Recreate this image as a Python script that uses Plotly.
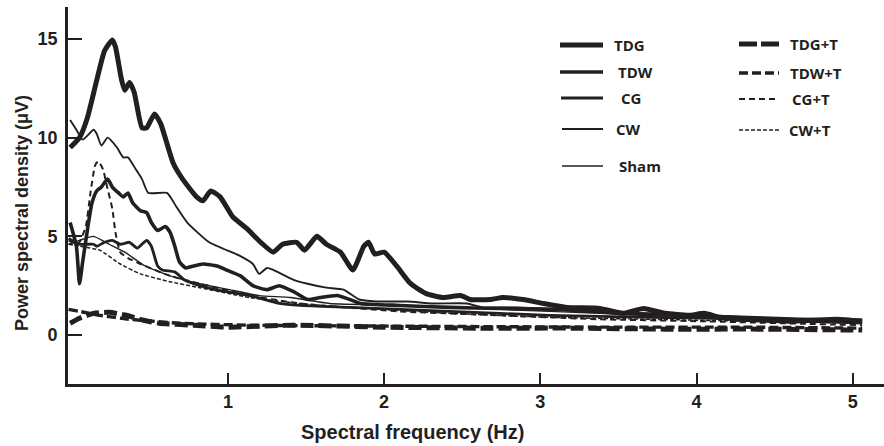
import plotly.graph_objects as go

# ---------------- data (Hz, µV) ----------------
tdg_x = [-0.01,0.05,0.10,0.16,0.21,0.26,0.28,0.32,0.34,0.37,0.40,0.45,0.48,0.53,0.57,0.65,0.71,0.80,0.84,0.89,
         0.95,1.03,1.12,1.21,1.29,1.35,1.44,1.49,1.57,1.63,1.72,1.80,1.87,1.90,1.94,2.00,2.08,2.17,2.27,2.38,
         2.49,2.55,2.68,2.76,2.89,3.02,3.17,3.38,3.53,3.66,3.80,3.95,4.05,4.15,4.30,4.45,4.60,4.75,4.90,5.06]
tdg_y = [9.5,10.0,11.0,12.9,14.4,14.95,14.6,12.9,12.4,12.8,12.3,10.5,10.5,11.2,10.7,8.7,7.9,7.0,6.8,7.3,
         7.0,6.0,5.4,4.7,4.2,4.6,4.7,4.3,5.0,4.6,4.2,3.3,4.5,4.7,4.1,4.2,3.5,2.6,2.1,1.9,
         2.0,1.8,1.8,1.9,1.8,1.6,1.4,1.35,1.1,1.35,1.1,1.0,1.1,0.9,0.8,0.75,0.7,0.75,0.8,0.7]

tdw_x = [-0.01,0.03,0.05,0.07,0.10,0.13,0.16,0.19,0.23,0.26,0.30,0.33,0.36,0.39,0.44,0.48,0.51,0.55,0.60,0.63,
         0.66,0.69,0.73,0.78,0.84,0.93,0.99,1.08,1.16,1.25,1.33,1.42,1.51,1.59,1.70,1.78,1.85,2.10,2.42,2.74,
         3.12,3.51,3.89,4.28,4.66,5.06]
tdw_y = [5.7,4.5,2.6,3.7,5.3,6.7,7.3,7.5,7.9,7.5,7.2,7.0,7.2,6.7,6.3,6.2,5.7,5.3,5.5,5.2,
         4.5,3.7,3.4,3.5,3.6,3.5,3.3,3.0,2.5,2.3,2.5,2.2,1.8,1.9,2.0,1.8,1.6,1.5,1.4,1.35,
         1.3,1.1,1.0,0.9,0.8,0.75]

cg_x = [-0.02,0.05,0.14,0.16,0.21,0.26,0.31,0.37,0.42,0.48,0.51,0.55,0.58,0.66,0.72,0.82,0.92,1.14,1.33,1.46,
        1.78,2.42,3.06,3.70,4.34,5.06]
cg_y = [4.9,4.6,4.6,4.5,4.7,4.8,4.6,4.7,4.4,4.8,4.5,3.5,3.3,3.2,2.8,2.5,2.3,2.0,1.6,1.5,
        1.4,1.2,1.0,0.9,0.8,0.6]

cw_x = [-0.01,0.03,0.07,0.14,0.16,0.19,0.23,0.29,0.33,0.36,0.41,0.45,0.49,0.61,0.67,0.74,0.88,1.08,1.16,1.20,
        1.25,1.29,1.42,1.51,1.63,1.74,1.84,1.95,2.15,2.31,2.53,2.63,2.85,3.38,4.02,4.66,5.06]
cw_y = [10.9,10.4,9.9,10.4,10.2,9.6,10.0,9.5,9.0,9.0,8.4,7.9,7.2,7.2,6.5,5.7,4.7,4.0,3.6,3.1,
        3.4,3.3,2.8,2.6,2.4,2.3,1.8,1.7,1.7,1.6,1.6,1.4,1.4,1.2,1.0,0.8,0.7]

sham_x = [-0.02,0.05,0.14,0.24,0.34,0.47,0.63,0.82,1.01,1.20,1.40,1.65,2.10,2.74,3.38,4.02,4.66,5.06]
sham_y = [4.6,4.8,5.0,4.6,4.2,3.5,3.0,2.6,2.3,2.0,1.9,1.6,1.5,1.3,1.1,0.9,0.8,0.6]

tdgt_x = [-0.01,0.05,0.14,0.24,0.35,0.46,0.56,0.78,0.99,1.41,2.00,2.60,3.20,3.80,4.40,5.06]
tdgt_y = [0.6,0.85,1.1,1.15,1.0,0.75,0.6,0.5,0.4,0.5,0.4,0.35,0.35,0.3,0.3,0.25]

tdwt_x = [-0.02,0.05,0.18,0.37,0.69,1.14,2.10,3.38,4.30,5.06]
tdwt_y = [1.3,1.2,1.0,0.8,0.6,0.5,0.45,0.4,0.4,0.35]

cgt_x = [-0.02,0.04,0.09,0.12,0.15,0.17,0.20,0.23,0.26,0.28,0.31,0.36,0.44,0.63,0.82,1.14,1.46,2.10,2.74,3.38,
         4.02,5.06]
cgt_y = [4.8,4.6,5.5,7.2,8.6,8.8,8.4,7.4,6.4,5.2,4.2,3.9,3.6,3.0,2.6,2.0,1.6,1.2,1.0,0.8,
         0.7,0.5]

cwt_x = [-0.02,0.05,0.18,0.31,0.44,0.63,0.82,1.14,1.46,1.78,2.42,3.06,3.70,4.34,5.06]
cwt_y = [4.6,4.5,4.3,3.6,3.1,2.7,2.4,1.9,1.6,1.4,1.1,0.9,0.8,0.7,0.6]

x_ticks = [1, 2, 3, 4, 5]
y_ticks = [0, 5, 10, 15]

INK = "#231f20"

series = [
    ("TDG", tdg_x, tdg_y, 5.0, "solid"),
    ("TDW", tdw_x, tdw_y, 3.6, "solid"),
    ("CG", cg_x, cg_y, 2.8, "solid"),
    ("CW", cw_x, cw_y, 1.9, "solid"),
    ("Sham", sham_x, sham_y, 1.4, "solid"),
    ("TDG+T", tdgt_x, tdgt_y, 5.0, "13px,5px"),
    ("TDW+T", tdwt_x, tdwt_y, 3.4, "9px,4px"),
    ("CG+T", cgt_x, cgt_y, 2.0, "6px,4px"),
    ("CW+T", cwt_x, cwt_y, 1.5, "4px,2px"),
]

fig = go.Figure()
for name, xs, ys, w, dash in series:
    fig.add_trace(go.Scatter(x=xs, y=ys, mode="lines", name=name, showlegend=False,
                             line=dict(color=INK, width=w, dash=dash, shape="spline", smoothing=0.5)))

# plot-area geometry in pixels (for legend placement)
L, R, T, B = 68, 884, 7, 384
def xp(px):
    return (px - L) / (R - L)
def yp(py):
    return (B - py) / (B - T)

legend_items = [
    ("TDG", 5.0, "solid", 560, 603, 612, 45),
    ("TDW", 3.6, "solid", 560, 603, 616, 72),
    ("CG", 2.8, "solid", 561, 603, 619, 98),
    ("CW", 1.9, "solid", 562, 603, 614, 129),
    ("Sham", 1.4, "solid", 562, 603, 617, 166),
    ("TDG+T", 5.0, "18px,4px", 739, 779, 788, 44),
    ("TDW+T", 3.4, "9px,4px", 739, 779, 788, 73),
    ("CG+T", 2.0, "6px,4px", 739, 779, 790, 99),
    ("CW+T", 1.5, "4px,2px", 739, 779, 787, 130),
]
shapes = []
annotations = []
for name, w, dash, x0, x1, tx, ty in legend_items:
    shapes.append(dict(type="line", xref="paper", yref="paper", x0=xp(x0), x1=xp(x1), y0=yp(ty), y1=yp(ty),
                       line=dict(color=INK, width=w, dash=dash)))
    annotations.append(dict(xref="paper", yref="paper", x=xp(tx), y=yp(ty), text=name, showarrow=False,
                            xanchor="left", yanchor="middle",
                            font=dict(family="Open Sans", size=15, color=INK, weight="bold")))

annotations.append(dict(xref="paper", yref="paper", x=xp(412), y=yp(432), text="Spectral frequency (Hz)",
                        showarrow=False, xanchor="center", yanchor="middle",
                        font=dict(family="Liberation Sans", size=20, color=INK, weight="bold")))
annotations.append(dict(xref="paper", yref="paper", x=xp(22), y=yp(213), text="Power spectral density (μV)",
                        showarrow=False, xanchor="center", yanchor="middle", textangle=-90,
                        font=dict(family="Liberation Sans", size=18, color=INK, weight="bold")))

tickfont = dict(family="Liberation Sans", size=18, color=INK, weight="bold")

fig.update_layout(
    width=884, height=446,
    margin=dict(l=L, r=884 - R, t=T, b=446 - B),
    paper_bgcolor="white", plot_bgcolor="white",
    shapes=shapes, annotations=annotations,
    xaxis=dict(range=[-0.0237, 5.2], tickvals=x_ticks, ticktext=[str(v) for v in x_ticks],
               ticks="inside", ticklen=11, tickwidth=1.8, tickcolor=INK,
               showline=True, linewidth=2.7, linecolor=INK, showgrid=False, zeroline=False,
               tickfont=tickfont),
    yaxis=dict(range=[-2.48, 16.62], tickvals=y_ticks, ticktext=[str(v) for v in y_ticks],
               ticks="inside", ticklen=14, tickwidth=1.8, tickcolor=INK,
               showline=True, linewidth=2.7, linecolor=INK, showgrid=False, zeroline=False,
               tickfont=tickfont, ticklabelstandoff=4),
)

fig.write_html("out.html")
